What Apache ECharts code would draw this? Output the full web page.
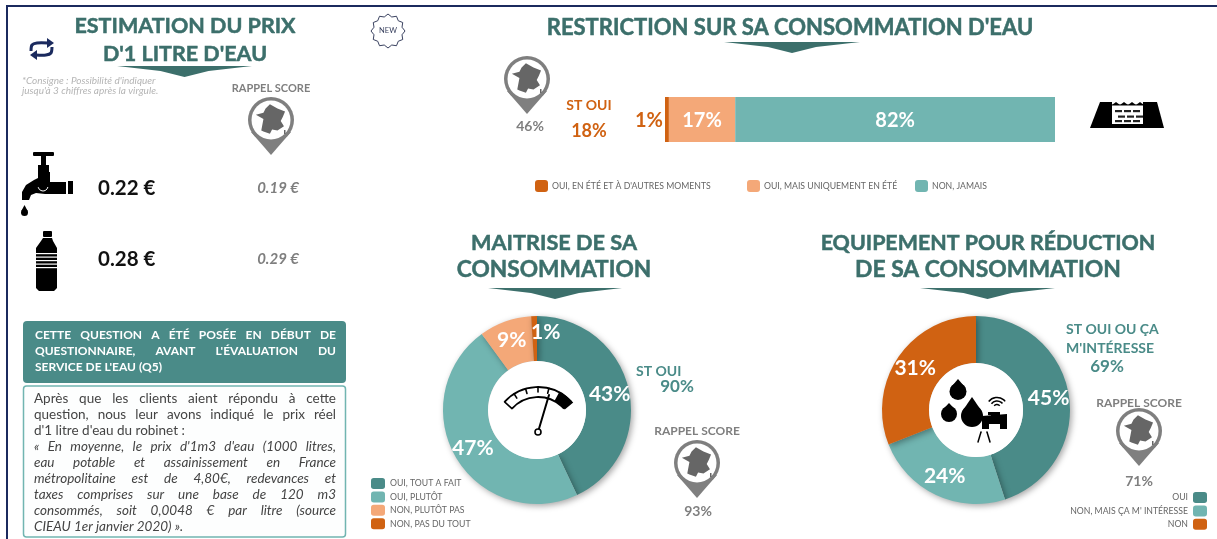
<!DOCTYPE html>
<html lang="fr">
<head>
<meta charset="utf-8">
<title>Consommation d'eau</title>
<script src="https://cdn.jsdelivr.net/npm/echarts@6/dist/echarts.min.js"></script>
<style>
  html, body { margin: 0; padding: 0; background: #fff; overflow: hidden; }
  #chart { width: 1217px; height: 539px; filter: blur(0.4px); }
</style>
</head>
<body>
<div id="chart"></div>
<script>
// restriction bar
const restrictionNames = ['OUI, EN ÉTÉ ET À D\'AUTRES MOMENTS', 'OUI, MAIS UNIQUEMENT EN ÉTÉ', 'NON, JAMAIS']
const restrictionValues = [1, 17, 82]

// donuts
const maitriseNames = ['OUI, TOUT A FAIT', 'OUI, PLUTÔT', 'NON, PLUTÔT PAS', 'NON, PAS DU TOUT']
const maitriseValues = [43, 47, 9, 1]
const equipementNames = ['OUI', 'NON, MAIS ÇA M\' INTÉRESSE', 'NON']
const equipementValues = [45, 24, 31]

// left panel
const headerLines = [
  'CETTE QUESTION A ÉTÉ POSÉE EN DÉBUT DE',
  'QUESTIONNAIRE, AVANT L\'ÉVALUATION DU',
  'SERVICE DE L\'EAU (Q5)'
]
const bodyLines = [
  'Après que les clients aient répondu à cette',
  'question, nous leur avons indiqué le prix réel',
  'd\'1 litre d\'eau du robinet :',
  '« En moyenne, le prix d\'1m3 d\'eau (1000 litres,',
  'eau potable et assainissement en France',
  'métropolitaine est de 4,80€, redevances et',
  'taxes comprises sur une base de 120 m3',
  'consommés, soit 0,0048 € par litre (source',
  'CIEAU 1er janvier 2020) ».'
]

const DARK = '#4a8b88'
const LIGHT = '#71b5b1'
const PEACH = '#f4a878'
const ORANGE = '#d06212'
const TITLE = '#3c6f6b'
const GREY = '#7f7f7f'
const NAVY = '#1b2a5e'
const FONT = 'Lato, sans-serif'

const measure = document.createElement('canvas').getContext('2d')

function txt (text, x, y, size, fill, opts = {}) {
  const style = {
    text,
    fill,
    font: `${opts.italic ? 'italic ' : ''}${opts.weight || 'bold'} ${size}px ${FONT}`,
    textAlign: opts.align || 'center',
    textVerticalAlign: 'middle'
  }
  if (opts.heavy) {
    style.stroke = fill
    style.lineWidth = opts.heavy
  }
  return { type: 'text', x, y, silent: true, style }
}

function title (text, x, y, size) {
  return txt(text, x, y, size, TITLE, { heavy: 0.5 })
}

// canvas text has no justify, so the words are spread out one by one
function justified (line, x, width, y, size, fill, opts, last) {
  const font = `${opts.italic ? 'italic ' : ''}${opts.weight} ${size}px ${FONT}`
  measure.font = font
  const words = line.split(' ')
  const widths = words.map(w => measure.measureText(w).width)
  const total = widths.reduce((a, b) => a + b, 0)
  const gap = last ? measure.measureText(' ').width : (width - total) / (words.length - 1)
  let cursor = x
  return words.map((w, i) => {
    const el = txt(w, cursor, y, size, fill, { ...opts, align: 'left' })
    cursor += widths[i] + gap
    return el
  })
}

function chevron (x0, x1, y) {
  const mid = (x0 + x1) / 2
  return {
    type: 'polygon',
    silent: true,
    shape: { points: [[x0, y], [x1, y], [mid + 24, y + 5], [mid, y + 11], [mid - 24, y + 5]] },
    style: { fill: TITLE }
  }
}

const francePoints = [[-1, -15], [6, -11], [13, -8], [11, -3], [9, 1], [12, 6], [6, 10], [1, 9], [-1, 13], [-7, 11], [-9, 10], [-7, -1], [-14, -5], [-7, -7], [-5, -11]]

function pin (x, y) {
  return {
    type: 'group',
    x,
    y,
    silent: true,
    children: [
      { type: 'circle', shape: { cx: 0, cy: 0, r: 23 }, style: { fill: GREY } },
      { type: 'polygon', shape: { points: [[-20, 12], [0, 35], [20, 12]] }, style: { fill: GREY } },
      { type: 'circle', shape: { cx: 0, cy: 0, r: 19.5 }, style: { fill: '#fff' } },
      { type: 'polygon', scaleX: 1.08, scaleY: 1.05, shape: { points: francePoints }, style: { fill: '#666' } },
      { type: 'rect', shape: { x: 13, y: 10, width: 1.5, height: 4 }, style: { fill: '#666' } }
    ]
  }
}

function drop (cx, top, bottom, r, fill = '#000') {
  return [
    { type: 'circle', silent: true, shape: { cx, cy: bottom - r, r }, style: { fill } },
    { type: 'polygon', silent: true, shape: { points: [[cx - r * 0.9, bottom - r - r * 0.4], [cx, top], [cx + r * 0.9, bottom - r - r * 0.4]] }, style: { fill } }
  ]
}

function rect (x, y, width, height, fill, r = 0) {
  return { type: 'rect', silent: true, shape: { x, y, width, height, r }, style: { fill } }
}

function line (x1, y1, x2, y2, stroke, lineWidth) {
  return { type: 'line', silent: true, shape: { x1, y1, x2, y2 }, style: { stroke, lineWidth, lineCap: 'round' } }
}

function tapIcon () {
  return [
    rect(33, 152, 21, 4, '#000', 1),
    rect(41, 156, 5, 9, '#000'),
    rect(38, 165, 11, 7, '#000'),
    { type: 'polygon', silent: true, shape: { points: [[38, 172], [50, 172], [50, 182], [66, 182], [66, 194], [45, 194], [36, 193], [31, 195], [29, 200], [22, 200], [22, 192], [26, 185], [34, 180], [38, 178]] }, style: { fill: '#000' } },
    rect(68, 181, 5, 13, '#000'),
    { type: 'arc', silent: true, shape: { cx: 43, cy: 186, r: 5, startAngle: 0.2, endAngle: 2.9, clockwise: true }, style: { stroke: '#fff', lineWidth: 1, fill: 'none' } },
    ...drop(24.5, 205, 216, 3.5)
  ]
}

function bottleIcon () {
  const stripes = [253, 256.5, 260, 263.5, 267]
  return [
    rect(43, 231, 9, 6, '#000', 1),
    { type: 'polygon', silent: true, shape: { points: [[43, 238], [52, 238], [53, 241], [57, 248], [57, 288], [54, 291], [39, 291], [36, 288], [36, 248], [41, 241]] }, style: { fill: '#000' } },
    ...stripes.map(y => rect(36, y, 21, 1.2, '#fff'))
  ]
}

function damIcon () {
  const bricks = [[1115, 110], [1124, 110], [1133, 110], [1118, 115.5], [1127, 115.5], [1136, 115.5], [1115, 120], [1124, 120], [1133, 120]]
  const waves = [1116, 1124, 1132, 1140]
  return [
    { type: 'polygon', silent: true, shape: { points: [[1100, 102], [1157, 102], [1164, 128], [1090, 128]] }, style: { fill: '#000' } },
    rect(1112, 102, 31, 22, '#fff'),
    ...waves.map(x => ({ type: 'polygon', silent: true, shape: { points: [[x - 4, 105], [x, 102], [x + 4, 105]] }, style: { fill: '#000' } })),
    rect(1112, 104.5, 31, 1, '#000'),
    ...bricks.map(b => rect(b[0], b[1], 7, 2.2, '#222'))
  ]
}

function gaugeIcon () {
  const cx = 538
  const cy = 432
  const deg = d => d * Math.PI / 180
  const ticks = [238, 254, 270, 284]
  const onArc = (a, r) => [cx + r * Math.cos(deg(a)), cy + r * Math.sin(deg(a))]
  const radial = (a, r0, r1) => {
    const p = onArc(a, r0)
    const q = onArc(a, r1)
    return line(p[0], p[1], q[0], q[1], '#000', 1.6)
  }
  const arc = r => ({ type: 'arc', silent: true, shape: { cx, cy, r, startAngle: deg(222), endAngle: deg(318), clockwise: true }, style: { stroke: '#000', lineWidth: 1.8, fill: 'none' } })
  return [
    arc(45),
    arc(35),
    radial(222, 35, 45),
    { type: 'sector', silent: true, shape: { cx, cy, r: 46, r0: 35, startAngle: deg(298), endAngle: deg(320), clockwise: true }, style: { fill: '#000' } },
    ...ticks.map(a => radial(a, 40, 45)),
    line(cx, cy, 549, 395, '#000', 2),
    { type: 'circle', silent: true, shape: { cx, cy, r: 3 }, style: { fill: '#fff', stroke: '#000', lineWidth: 1.6 } }
  ]
}

function smartWaterIcon () {
  const wifi = [3.5, 7, 10.5].map(r => ({
    type: 'arc',
    silent: true,
    shape: { cx: 997, cy: 408, r, startAngle: 3.8, endAngle: 5.6, clockwise: true },
    style: { stroke: '#000', lineWidth: 1.5, fill: 'none' }
  }))
  return [
    ...drop(958, 379, 400, 8.5),
    ...drop(949, 403, 422, 8),
    ...drop(972, 397, 427, 11),
    ...wifi,
    rect(988, 412, 12, 3, '#000'),
    rect(991, 414, 6, 3, '#000'),
    { type: 'polygon', silent: true, shape: { points: [[982, 416], [1007, 414], [1007, 429], [1000, 429], [1000, 424], [989, 424], [989, 429], [982, 429]] }, style: { fill: '#000' } },
    line(981, 432, 978, 442, '#000', 1.5),
    line(987, 432, 990, 442, '#000', 1.5)
  ]
}

function repeatIcon () {
  const stroke = pts => ({ type: 'polyline', silent: true, shape: { points: pts, smooth: 0.3 }, style: { stroke: NAVY, lineWidth: 3, fill: 'none' } })
  const head = pts => ({ type: 'polygon', silent: true, shape: { points: pts }, style: { fill: NAVY } })
  return [
    stroke([[31, 51], [32, 45], [37, 43], [48, 43]]),
    head([[47, 38], [54, 43], [47, 48]]),
    stroke([[52, 47], [51, 53], [46, 55], [36, 55]]),
    head([[37, 50], [30, 55], [37, 60]])
  ]
}

function newBadge () {
  const points = []
  for (let i = 0; i < 24; i++) {
    const a = i / 24 * Math.PI * 2
    const r = i % 2 ? 14.5 : 17
    points.push([388 + r * Math.cos(a), 31 + r * Math.sin(a)])
  }
  return [
    { type: 'polygon', silent: true, shape: { points }, style: { fill: '#fff', stroke: '#39415f', lineWidth: 1 } },
    txt('NEW', 388, 31, 7.5, '#39415f', { weight: 'normal' })
  ]
}

// keeps the drop shadow of the ring out of its hole
function hole (cx, cy, r) {
  return { type: 'circle', silent: true, shape: { cx, cy, r }, style: { fill: '#fff' } }
}

const graphics = [
  // page frame
  rect(6, 5, 1211, 2, NAVY),
  rect(6, 5, 2, 534, NAVY),

  // left column
  title('ESTIMATION DU PRIX', 185, 26, 21.5),
  title('D\'1 LITRE D\'EAU', 185, 54, 21.5),
  chevron(117, 252, 66),
  ...repeatIcon(),
  txt('*Consigne : Possibilité d\'indiquer', 22, 81, 10, '#b5b5b5', { italic: true, weight: 'normal', align: 'left' }),
  txt('jusqu\'à 3 chiffres après la virgule.', 22, 91, 10, '#b5b5b5', { italic: true, weight: 'normal', align: 'left' }),
  txt('RAPPEL SCORE', 271, 88, 11, GREY),
  pin(271, 120),
  ...tapIcon(),
  txt('0.22 €', 98, 188, 20.5, '#111', { align: 'left' }),
  txt('0.19 €', 278, 188, 15, GREY, { italic: true }),
  ...bottleIcon(),
  txt('0.28 €', 98, 259, 20.5, '#111', { align: 'left' }),
  txt('0.29 €', 278, 259, 15, GREY, { italic: true }),

  // note panel
  rect(23, 321, 323, 62, DARK, 4),
  ...headerLines.flatMap((l, i) => justified(l, 35, 301, 335 + i * 16, 12, '#fff', { weight: 'bold' }, i === headerLines.length - 1)),
  { type: 'rect', silent: true, shape: { x: 23.5, y: 386, width: 322, height: 151, r: 3 }, style: { fill: '#fdfefe', stroke: LIGHT, lineWidth: 1.5 } },
  ...bodyLines.flatMap((l, i) => justified(l, 34, 302, 399 + i * 15.9, 13.5, '#444', { weight: 'normal', italic: i >= 3 }, i === 2 || i === bodyLines.length - 1)),

  // restriction
  ...newBadge(),
  title('RESTRICTION SUR SA CONSOMMATION D\'EAU', 790, 28, 22),
  chevron(724, 860, 42),
  pin(527, 79),
  txt('46%', 530, 126, 14, GREY),
  txt('ST OUI', 589, 105, 14, ORANGE),
  txt('18%', 589, 131, 18, ORANGE),
  ...damIcon(),

  // maitrise
  title('MAITRISE DE SA', 554, 243, 21.7),
  title('CONSOMMATION', 554, 270, 22.7),
  chevron(488, 622, 288),
  hole(537, 410, 49),
  ...gaugeIcon(),
  txt('ST OUI', 636, 371, 14, DARK, { align: 'left' }),
  txt('90%', 677, 387, 17, DARK),
  txt('RAPPEL SCORE', 697, 431, 12, GREY),
  pin(697, 463),
  txt('93%', 698, 511, 14, GREY),

  // equipement
  title('EQUIPEMENT POUR RÉDUCTION', 988, 243, 21.4),
  title('DE SA CONSOMMATION', 988, 270, 22.9),
  chevron(920, 1055, 288),
  hole(976, 410, 47),
  ...smartWaterIcon(),
  txt('ST OUI OU ÇA', 1066, 329, 14, DARK, { align: 'left' }),
  txt('M\'INTÉRESSE', 1066, 348, 14, DARK, { align: 'left' }),
  txt('69%', 1107, 367, 17, DARK),
  txt('RAPPEL SCORE', 1139, 403, 12, GREY),
  pin(1139, 431),
  txt('71%', 1139, 481, 14, GREY)
]
// graphics default to z 0, below the series: lift them so the holes hide the shadow
graphics.forEach(el => { el.z = 5 })

const restrictionColors = [ORANGE, PEACH, LIGHT]
const legendBase = {
  selectedMode: false,
  icon: 'roundRect',
  padding: 0,
  itemWidth: 13,
  itemHeight: 12,
  textStyle: { fontFamily: FONT, fontSize: 8.7, color: '#666' }
}
const restrictionLefts = [535, 747, 915]

function donut (name, names, values, colors, center, radius) {
  return {
    type: 'pie',
    name,
    center,
    radius,
    startAngle: 90,
    silent: true,
    color: colors,
    data: names.map((n, i) => ({ name: n, value: values[i] })),
    itemStyle: { shadowBlur: 6, shadowOffsetX: 2, shadowOffsetY: 2, shadowColor: 'rgba(0,0,0,0.35)' },
    label: { position: 'inside', formatter: '{c}%', color: '#fff', fontFamily: FONT, fontWeight: 'bold', fontSize: 21 },
    labelLine: { show: false },
    // the 1% label sits beside its thin slice, over the dark teal
    labelLayout: p => (p.dataIndex === 3 ? { dx: 11, dy: -3 } : {})
  }
}

const chart = echarts.init(document.getElementById('chart'))
chart.setOption({
  animation: false,
  backgroundColor: '#fff',
  grid: { left: 665, top: 97, width: 390, height: 45 },
  xAxis: { type: 'value', min: 0, max: 100, show: false },
  yAxis: { type: 'category', data: ['Restriction'], show: false },
  legend: [
    ...restrictionNames.map((n, i) => ({ ...legendBase, data: [n], left: restrictionLefts[i], top: 180, itemGap: 0, textStyle: { ...legendBase.textStyle, padding: [0, 0, 0, -1] } })),
    { ...legendBase, data: maitriseNames, orient: 'vertical', left: 371, top: 478, itemGap: 2.4, itemWidth: 14, itemHeight: 11, align: 'left' },
    { ...legendBase, data: equipementNames, orient: 'vertical', right: 10, top: 492, itemGap: 2.4, itemWidth: 14, itemHeight: 11, align: 'right' }
  ],
  series: [
    ...restrictionNames.map((n, i) => ({
      type: 'bar',
      name: n,
      stack: 'restriction',
      barWidth: 45,
      silent: true,
      data: [restrictionValues[i]],
      itemStyle: { color: restrictionColors[i] },
      label: {
        show: true,
        position: i === 0 ? 'left' : 'inside',
        formatter: '{c}%',
        color: i === 0 ? ORANGE : '#fff',
        fontFamily: FONT,
        fontWeight: 'bold',
        fontSize: 20,
        distance: 2,
        offset: [0, 1]
      }
    })),
    donut('Maitrise', maitriseNames, maitriseValues, [DARK, LIGHT, PEACH, ORANGE], [537, 410], [49, 94]),
    donut('Equipement', equipementNames, equipementValues, [DARK, LIGHT, ORANGE], [976, 410], [47, 94])
  ],
  graphic: { elements: graphics }
})
</script>
</body>
</html>
